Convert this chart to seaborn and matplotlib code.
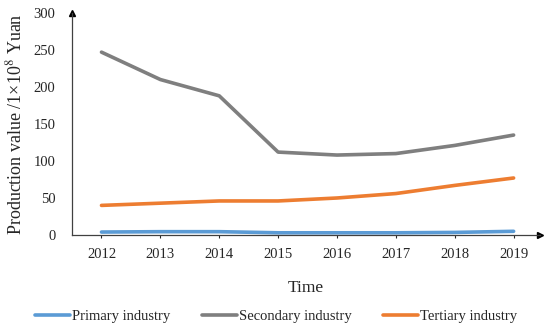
import pandas as pd
import matplotlib.pyplot as plt
import seaborn as sns

years = [2012, 2013, 2014, 2015, 2016, 2017, 2018, 2019]
primary = [4, 4.5, 4.5, 3, 3, 3, 3.5, 5]
secondary = [247, 210, 188, 112, 108, 110, 121, 135]
tertiary = [40, 43, 46, 46, 50, 56, 67, 77]
series_names = ['Primary industry', 'Secondary industry', 'Tertiary industry']
colores = ['#5B9BD5', '#7F7F7F', '#ED7D31']

# Pasar a formato largo para seaborn
df = pd.DataFrame({'Time': years * 3,
                   'Value': primary + secondary + tertiary,
                   'Industry': sum([[n] * len(years) for n in series_names], [])})

sns.set_style('white')
plt.rcParams['font.family'] = ['Liberation Serif', 'DejaVu Serif']
plt.rcParams['mathtext.fontset'] = 'stix'

fig = plt.figure(figsize=(5.5, 3.31), dpi=100)
ax = fig.add_axes([0.131, 0.29, 0.851, 0.671])

sns.lineplot(data=df, x='Time', y='Value', hue='Industry', palette=colores,
             linewidth=2.6, ax=ax)

ax.set_xlim(2011.5, 2019.45)
ax.set_ylim(0, 300)
ax.set_xticks(years)
ax.set_xticklabels([str(y) for y in years])
ax.set_yticks([0, 50, 100, 150, 200, 250, 300])
ax.tick_params(axis='x', length=2, width=0.8, labelsize=10.5, pad=7, direction='out', bottom=True)
ax.tick_params(axis='y', length=0, labelsize=10.5, pad=12)
for s in ['top', 'right']:
    ax.spines[s].set_visible(False)
for s in ['left', 'bottom']:
    ax.spines[s].set_color('#404040')
    ax.spines[s].set_linewidth(0.9)

# flechas en los ejes
ax.plot(1, 0, '>', color='black', markersize=4, transform=ax.transAxes, clip_on=False)
ax.plot(0, 1, '^', color='black', markersize=4, transform=ax.transAxes, clip_on=False)

ax.set_xlabel('Time', fontsize=12.5, labelpad=14)
ax.set_ylabel('Production value /1×10$^{8}$ Yuan', fontsize=13, labelpad=6)

handles, labels = ax.get_legend_handles_labels()
ax.legend(handles, labels, loc='center', bbox_to_anchor=(0.436, -0.365),
          ncol=3, frameon=False, fontsize=10.5, handlelength=2.4,
          handletextpad=0.1, columnspacing=2.2, bbox_transform=ax.transAxes)

fig.savefig('out.png', dpi=100)
